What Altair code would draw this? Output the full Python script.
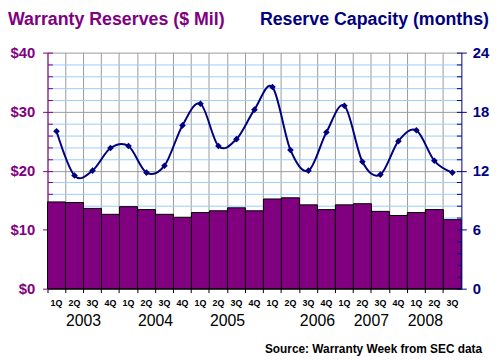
import altair as alt
import pandas as pd

# ---- data ----
years = ["2003"] * 4 + ["2004"] * 4 + ["2005"] * 4 + ["2006"] * 4 + ["2007"] * 4 + ["2008"] * 3
quarters = ["1Q", "2Q", "3Q", "4Q"] * 5 + ["1Q", "2Q", "3Q"]
reserves = [14.7, 14.6, 13.6, 12.6, 13.9, 13.4, 12.6, 12.1, 12.9, 13.2, 13.7, 13.2,
            15.2, 15.4, 14.2, 13.4, 14.2, 14.4, 13.1, 12.4, 12.9, 13.4, 11.7]
capacity = [16.0, 11.5, 12.0, 14.3, 14.5, 11.8, 12.5, 16.6, 18.8, 14.5, 15.2, 18.2,
            20.5, 14.1, 12.0, 15.9, 18.6, 12.9, 11.6, 15.0, 16.1, 13.0, 11.8]
year_labels = ["2003", "2004", "2005", "2006", "2007", "2008"]
year_anchor_q = ["3Q", "3Q", "3Q", "4Q", "3Q", "2Q"]

title_left = "Warranty Reserves ($ Mil)"
title_right = "Reserve Capacity (months)"
source_text = "Source: Warranty Week from SEC data"

# ---- styling ----
PURPLE = "#800080"
NAVY = "#000080"
GRAY = "#999999"
LBLUE = "#99CCFF"
FONT = "Liberation Sans"
W, H = 419, 239

keys = [f"{y} {q}" for y, q in zip(years, quarters)]
df = pd.DataFrame({"key": keys, "reserves": reserves, "capacity": capacity})
ydf = pd.DataFrame({"year": year_labels,
                    "anchor": [f"{y} {q}" for y, q in zip(year_labels, year_anchor_q)]})

left_vals = list(range(0, 41, 2))
right_vals = [round(1.2 * k, 2) for k in range(0, 21)]

x_scale = alt.Scale(domain=keys, paddingInner=0, paddingOuter=0)
yL_scale = alt.Scale(domain=[0, 40], nice=False, zero=True)
yR_scale = alt.Scale(domain=[0, 24], nice=False, zero=True)

bars = alt.Chart(df).mark_bar(color=PURPLE, stroke="black", strokeWidth=1).encode(
    x=alt.X("key:N", scale=x_scale, sort=None,
            axis=alt.Axis(orient="bottom", title=None, labelExpr="slice(datum.label, 5)",
                          labelAngle=0, ticks=False, grid=False, domainColor="black",
                          labelFont=FONT, labelFontSize=9, labelFontWeight="bold",
                          labelColor="black", labelPadding=10, labelOverlap=False, zindex=0)),
    y=alt.Y("reserves:Q", scale=yL_scale,
            axis=alt.Axis(orient="left", title=None, values=left_vals,
                          labelExpr="datum.value % 10 === 0 ? '$' + datum.value : ''",
                          grid=True,
                          gridColor={"condition": {"test": "datum.value % 10 === 0", "value": GRAY}, "value": LBLUE},
                          gridWidth=1,
                          tickOpacity={"condition": {"test": "datum.value % 10 === 0", "value": 1}, "value": 0},
                          tickColor=PURPLE, tickSize=5, domainColor=PURPLE, labelColor=PURPLE,
                          labelFont=FONT, labelFontSize=15, labelFontWeight="bold",
                          labelPadding=8, labelOverlap=False, zindex=0)),
)

ghostL = alt.Chart(df).mark_point(opacity=0).encode(
    x=alt.X("key:N", scale=x_scale, sort=None,
            axis=alt.Axis(orient="bottom", title=None, bandPosition=0, grid=True, gridColor=GRAY,
                          ticks=True, tickColor="black", tickSize=4, labels=False, domain=False,
                          zindex=0)),
    y=alt.Y("reserves:Q", scale=yL_scale,
            axis=alt.Axis(orient="left", title=None, values=left_vals, offset=-5, labels=False,
                          domain=False, grid=False, ticks=True, tickSize=5, tickColor=PURPLE,
                          zindex=0)),
)

line = alt.Chart(df).mark_line(color=NAVY, strokeWidth=2, interpolate="cardinal").encode(
    x=alt.X("key:N", scale=x_scale, sort=None, axis=None),
    y=alt.Y("capacity:Q", scale=yR_scale,
            axis=alt.Axis(orient="right", title=None, values=right_vals,
                          labelExpr="datum.value % 6 === 0 ? '' + round(datum.value) : ''",
                          grid=False,
                          tickOpacity={"condition": {"test": "datum.value % 6 === 0", "value": 1}, "value": 0},
                          tickColor=NAVY, tickSize=5, domainColor=NAVY, labelColor=NAVY,
                          labelFont=FONT, labelFontSize=15, labelFontWeight="bold",
                          labelPadding=6, labelOverlap=False, zindex=1)),
)

ghostR = alt.Chart(df).mark_point(opacity=0).encode(
    x=alt.X("key:N", scale=x_scale, sort=None, axis=None),
    y=alt.Y("capacity:Q", scale=yR_scale,
            axis=alt.Axis(orient="right", title=None, values=right_vals, offset=-5, labels=False,
                          domain=False, grid=False, ticks=True, tickSize=5, tickColor=NAVY,
                          zindex=1)),
)

points = alt.Chart(df).mark_point(shape="diamond", filled=True, color=NAVY, size=45, opacity=1).encode(
    x=alt.X("key:N", scale=x_scale, sort=None, axis=None),
    y=alt.Y("capacity:Q", scale=yR_scale, axis=None),
)

year_text = alt.Chart(ydf).mark_text(align="center", baseline="middle", font=FONT,
                                     fontSize=16, color="black").encode(
    x=alt.X("anchor:N", scale=x_scale, sort=None, bandPosition=0, axis=None),
    y=alt.value(H + 33),
    text="year:N",
)

t_left = alt.Chart(pd.DataFrame({"t": [title_left]})).mark_text(
    align="left", baseline="alphabetic", font=FONT, fontSize=18, fontWeight="bold", color=PURPLE
).encode(x=alt.value(-40), y=alt.value(-28), text="t:N")

t_right = alt.Chart(pd.DataFrame({"t": [title_right]})).mark_text(
    align="left", baseline="alphabetic", font=FONT, fontSize=18, fontWeight="bold", color=NAVY
).encode(x=alt.value(215), y=alt.value(-28), text="t:N")

src = alt.Chart(pd.DataFrame({"t": [source_text]})).mark_text(
    align="right", baseline="alphabetic", font=FONT, fontSize=12, fontWeight="bold", color="black"
).encode(x=alt.value(440), y=alt.value(304), text="t:N")

chart = alt.layer(bars, ghostL, line, ghostR, points, year_text, t_left, t_right, src).resolve_scale(
    y="independent"
).resolve_axis(
    x="independent", y="independent"
).properties(
    width=W, height=H,
    padding={"left": 40, "top": 43, "right": 31, "bottom": 66},
    autosize=alt.AutoSizeParams(type="none"),
    background="white",
).configure_view(strokeWidth=0)

chart.save("out.html", embed_options={"renderer": "svg", "actions": False})
